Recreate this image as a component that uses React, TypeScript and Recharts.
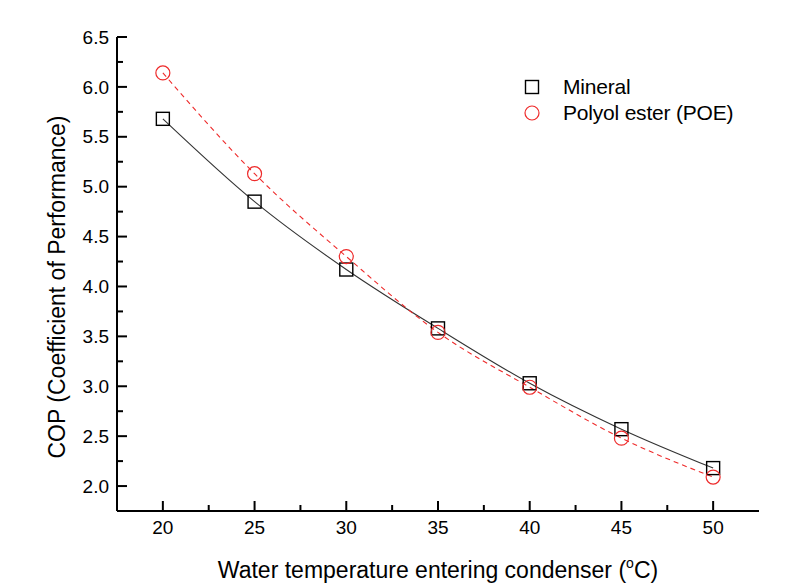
import React from "react";
import { LineChart, Line, XAxis, YAxis, Legend, Label } from "recharts";

// COP vs condenser water inlet temperature, two oils
const temps = [20, 25, 30, 35, 40, 45, 50];
const mineral = [5.68, 4.85, 4.17, 3.58, 3.03, 2.57, 2.18];
const poe = [6.14, 5.13, 4.3, 3.54, 2.99, 2.48, 2.09];

const xMajor = [20, 25, 30, 35, 40, 45, 50];
const xMinor = [22.5, 27.5, 32.5, 37.5, 42.5, 47.5];
const yMajor = [2.0, 2.5, 3.0, 3.5, 4.0, 4.5, 5.0, 5.5, 6.0, 6.5];
const yMinor = [2.25, 2.75, 3.25, 3.75, 4.25, 4.75, 5.25, 5.75, 6.25];

const data = temps.map((t, i) => ({ t, mineral: mineral[i], poe: poe[i] }));

const FONT = "'Liberation Sans', Arial, sans-serif";
const RED = "#ee2a2a";

const xTicks = [...xMajor, ...xMinor].sort((a, b) => a - b);
const yTicks = [...yMajor, ...yMinor].sort((a, b) => a - b);

const XTick = (side: "bottom" | "top") => (p: any) => {
  const major = xMajor.includes(p.payload.value);
  const len = major ? 10 : 6;
  const dir = side === "bottom" ? -1 : 1;
  return (
    <g>
      <line x1={p.x} x2={p.x} y1={p.y} y2={p.y + dir * len} stroke="#000" strokeWidth={2} />
      {side === "bottom" && major && (
        <text x={p.x} y={p.y + 23} textAnchor="middle" fontSize={19} fontFamily={FONT} fill="#000">
          {p.payload.value}
        </text>
      )}
    </g>
  );
};

const YTick = (side: "left" | "right") => (p: any) => {
  const major = yMajor.includes(p.payload.value);
  const len = major ? 10 : 6;
  const dir = side === "left" ? 1 : -1;
  return (
    <g>
      <line x1={p.x} x2={p.x + dir * len} y1={p.y} y2={p.y} stroke="#000" strokeWidth={2} />
      {side === "left" && major && (
        <text x={p.x - 8} y={p.y} dy="0.35em" textAnchor="end" fontSize={19} fontFamily={FONT} fill="#000">
          {p.payload.value.toFixed(1)}
        </text>
      )}
    </g>
  );
};

const squareDot = (p: any) => (
  <rect key={`sq-${p.index}`} x={p.cx - 6.5} y={p.cy - 6.5} width={13} height={13} fill="none" stroke="#000" strokeWidth={1.4} />
);
const circleDot = (p: any) => (
  <circle key={`ci-${p.index}`} cx={p.cx} cy={p.cy} r={7} fill="none" stroke={RED} strokeWidth={1.2} />
);

const renderLegend = () => (
  <div style={{ fontFamily: FONT, fontSize: 21, color: "#000" }}>
    {[
      { name: "Mineral", icon: <rect x={3.5} y={3.5} width={13} height={13} fill="none" stroke="#000" strokeWidth={1.4} /> },
      { name: "Polyol ester (POE)", icon: <circle cx={10} cy={10} r={7} fill="none" stroke={RED} strokeWidth={1.2} /> },
    ].map((it) => (
      <div key={it.name} style={{ display: "flex", alignItems: "center", height: 26 }}>
        <svg width={20} height={20}>{it.icon}</svg>
        <span style={{ marginLeft: 21, letterSpacing: -0.2 }}>{it.name}</span>
      </div>
    ))}
  </div>
);

export default function App() {
  return (
    <div style={{ position: "absolute", left: 0, top: 0, background: "#fff" }}>
      <LineChart width={802} height={585} data={data} margin={{ top: 37, right: 43, left: 57, bottom: 24 }}>
        <XAxis
          dataKey="t"
          type="number"
          domain={[17.5, 52.5]}
          allowDataOverflow
          ticks={xTicks}
          interval={0}
          height={50}
          tickSize={0}
          tickMargin={0}
          tickLine={false}
          axisLine={{ stroke: "#000", strokeWidth: 2 }}
          tick={XTick("bottom")}
        >
          <Label
            content={(lp: any) => {
              const vb = lp.viewBox;
              return (
                <text x={vb.x + vb.width / 2} y={vb.y + 67} textAnchor="middle" fontSize={23} fontFamily={FONT} fill="#000">
                  Water temperature entering condenser (
                  <tspan fontSize={14} dy={-10}>o</tspan>
                  <tspan fontSize={23} dy={10}>C)</tspan>
                </text>
              );
            }}
          />
        </XAxis>
        <XAxis
          xAxisId="top"
          orientation="top"
          type="number"
          domain={[17.5, 52.5]}
          allowDataOverflow
          ticks={xTicks}
          interval={0}
          height={0}
          tickSize={0}
          tickMargin={0}
          tickLine={false}
          axisLine={{ stroke: "#000", strokeWidth: 2 }}
          tick={XTick("top")}
        />
        <YAxis
          type="number"
          domain={[1.75, 6.5]}
          allowDataOverflow
          ticks={yTicks}
          interval={0}
          width={60}
          tickSize={0}
          tickMargin={0}
          tickLine={false}
          axisLine={{ stroke: "#000", strokeWidth: 2 }}
          tick={YTick("left")}
        >
          <Label
            content={(lp: any) => {
              const vb = lp.viewBox;
              const cx = vb.x;
              const cy = vb.y + vb.height / 2 + 13;
              return (
                <text
                  x={cx}
                  y={cy}
                  transform={`rotate(-90 ${cx} ${cy})`}
                  textAnchor="middle"
                  dominantBaseline="central"
                  fontSize={23}
                  fontFamily={FONT}
                  fill="#000"
                >
                  COP (Coefficient of Performance)
                </text>
              );
            }}
          />
        </YAxis>
        <YAxis
          yAxisId="right"
          orientation="right"
          type="number"
          domain={[1.75, 6.5]}
          allowDataOverflow
          ticks={yTicks}
          interval={0}
          width={0}
          tickSize={0}
          tickMargin={0}
          tickLine={false}
          axisLine={{ stroke: "#000", strokeWidth: 2 }}
          tick={YTick("right")}
        />
        <Legend layout="vertical" align="center" verticalAlign="middle" content={renderLegend} wrapperStyle={{ left: 522, top: 74, width: 260 }} />
        <Line
          type="monotone"
          dataKey="mineral"
          name="Mineral"
          stroke="#333"
          strokeWidth={1.1}
          dot={squareDot}
          activeDot={false}
          isAnimationActive={false}
        />
        <Line
          type="monotone"
          dataKey="poe"
          name="Polyol ester (POE)"
          stroke={RED}
          strokeWidth={1.1}
          strokeDasharray="5 4"
          dot={circleDot}
          activeDot={false}
          isAnimationActive={false}
        />
      </LineChart>
    </div>
  );
}
